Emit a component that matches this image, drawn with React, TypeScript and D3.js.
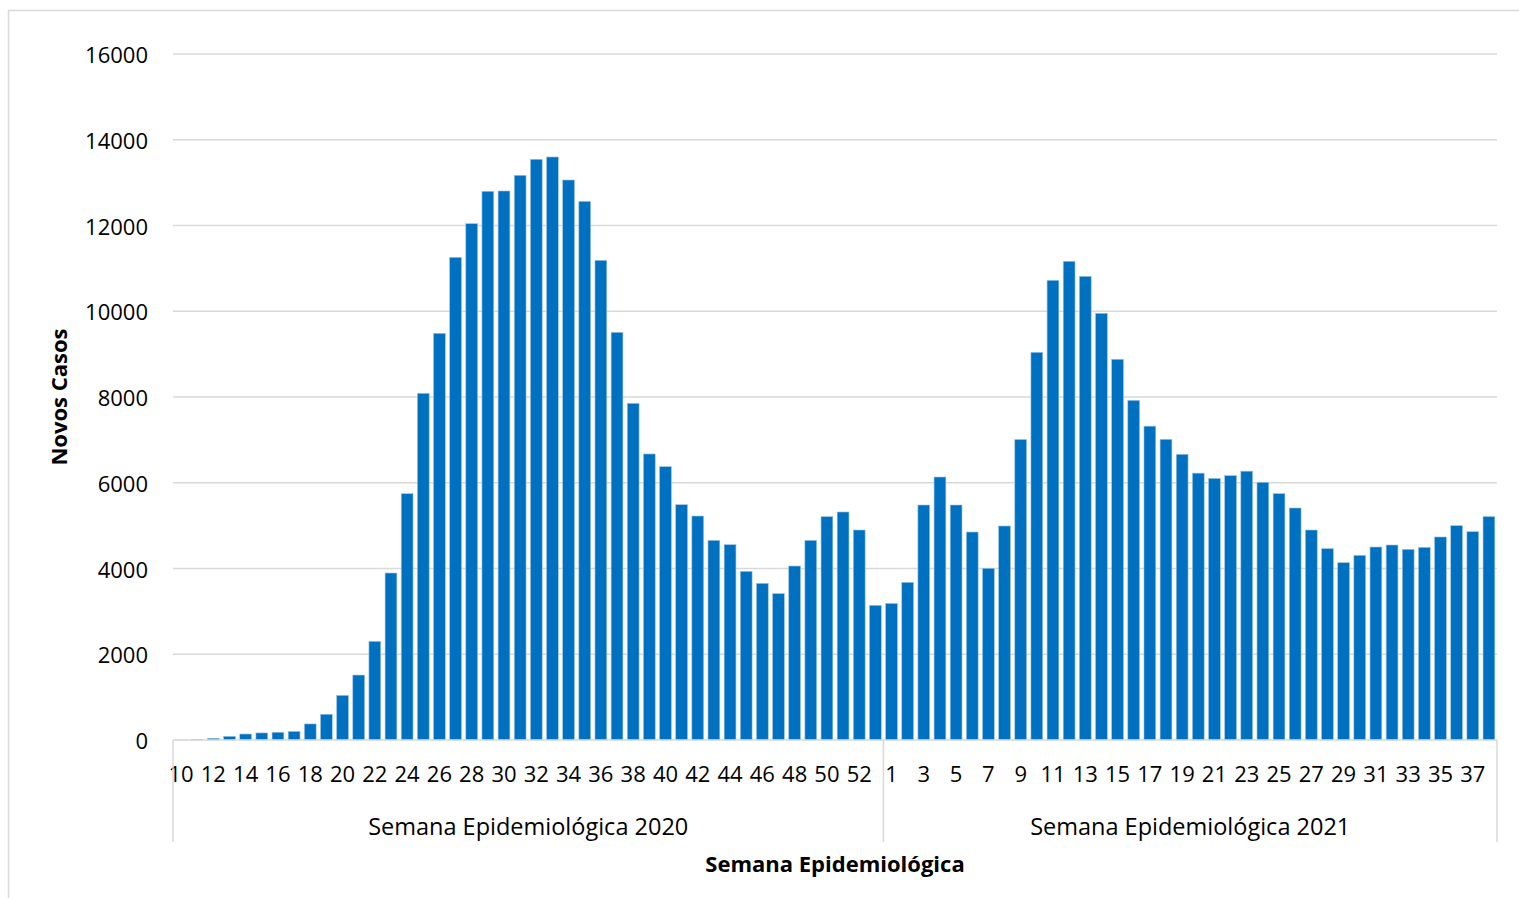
import { useEffect, useRef } from 'react';
import * as d3 from 'd3';

// Epidemiological weeks shown on the category axis
const weeks2020 = [
    10, 11, 12, 13, 14, 15, 16, 17, 18, 19, 20, 21, 22, 23, 24, 25, 26, 27, 28, 29, 30, 31,
    32, 33, 34, 35, 36, 37, 38, 39, 40, 41, 42, 43, 44, 45, 46, 47, 48, 49, 50, 51, 52, 53,
];
const weeks2021 = [
    1, 2, 3, 4, 5, 6, 7, 8, 9, 10, 11, 12, 13, 14, 15, 16, 17, 18, 19,
    20, 21, 22, 23, 24, 25, 26, 27, 28, 29, 30, 31, 32, 33, 34, 35, 36, 37, 38,
];

// New cases per week
const cases2020 = [
    2, 8, 40, 85, 140, 165, 180, 200, 375, 600, 1040, 1515, 2300, 3895, 5745, 8086, 9485, 11258,
    12043, 12797, 12805, 13170, 13544, 13598, 13061, 12563, 11188, 9509, 7853, 6671, 6375, 5489,
    5224, 4657, 4556, 3934, 3654, 3413, 4058, 4657, 5209, 5318, 4898, 3141,
];
const cases2021 = [
    3185, 3677, 5481, 6134, 5481, 4851, 4004, 4991, 7009, 9042, 10722, 11165, 10815, 9952, 8879,
    7922, 7320, 7013, 6663, 6224, 6100, 6165, 6270, 6010, 5746, 5411, 4898, 4462, 4136, 4307,
    4501, 4548, 4447, 4494, 4735, 4999, 4859, 5210,
];

const groups = [
    { label: 'Semana Epidemiológica 2020', weeks: weeks2020, values: cases2020, key: '2020' },
    { label: 'Semana Epidemiológica 2021', weeks: weeks2021, values: cases2021, key: '2021' },
];

const yTicks = [0, 2000, 4000, 6000, 8000, 10000, 12000, 14000, 16000];

const W = 1519;
const H = 898;
const PLOT = { left: 173, right: 1497, top: 54, bottom: 740 };
const BAR = '#0070C0';
const GRID = '#d9d9d9';
const FONT = '"Open Sans", "Noto Sans", sans-serif';

type Row = { id: string; week: number; value: number; group: string; pos: number };

export default function App() {
    const ref = useRef<SVGSVGElement>(null);

    useEffect(() => {
        document.body.style.margin = '0';
        document.body.style.overflow = 'hidden';
        if (!ref.current) return;

        const svg = d3.select(ref.current);
        svg.selectAll('*').remove();

        const rows: Row[] = groups.flatMap((g) =>
            g.weeks.map((w, i) => ({ id: `${g.key}-${w}`, week: w, value: g.values[i], group: g.key, pos: i }))
        );

        const x = d3.scaleBand<string>()
            .domain(rows.map((d) => d.id))
            .range([PLOT.left, PLOT.right])
            .paddingInner(0.27)
            .paddingOuter(0.135);

        const y = d3.scaleLinear().domain([0, 16000]).range([PLOT.bottom, PLOT.top]);

        // chart border
        svg.append('rect')
            .attr('x', 8.5)
            .attr('y', 10.5)
            .attr('width', W + 20)
            .attr('height', H + 20)
            .attr('fill', 'none')
            .attr('stroke', GRID)
            .attr('stroke-width', 1.5);

        // gridlines
        svg.append('g')
            .selectAll('line')
            .data(yTicks.filter((t) => t > 0))
            .join('line')
            .attr('x1', PLOT.left)
            .attr('x2', PLOT.right)
            .attr('y1', (d) => y(d))
            .attr('y2', (d) => y(d))
            .attr('stroke', GRID)
            .attr('stroke-width', 1.5);

        // y labels
        svg.append('g')
            .selectAll('text')
            .data(yTicks)
            .join('text')
            .attr('x', 148)
            .attr('y', (d) => y(d))
            .attr('text-anchor', 'end')
            .attr('dominant-baseline', 'central')
            .attr('font-family', FONT)
            .attr('font-size', 22)
            .attr('fill', '#000')
            .text((d) => String(d));

        // bars
        svg.append('g')
            .selectAll('rect')
            .data(rows)
            .join('rect')
            .attr('x', (d) => x(d.id) ?? 0)
            .attr('width', x.bandwidth())
            .attr('y', (d) => y(d.value))
            .attr('height', (d) => y(0) - y(d.value))
            .attr('fill', BAR)
            .attr('stroke', '#9cc3e6')
            .attr('stroke-width', 0.6);

        // category axis baseline
        svg.append('line')
            .attr('x1', PLOT.left)
            .attr('x2', PLOT.right)
            .attr('y1', PLOT.bottom)
            .attr('y2', PLOT.bottom)
            .attr('stroke', GRID)
            .attr('stroke-width', 1.5);

        // week labels, every second one per group
        svg.append('g')
            .selectAll('text')
            .data(rows.filter((d) => d.pos % 2 === 0))
            .join('text')
            .attr('x', (d) => (x(d.id) ?? 0) + x.bandwidth() / 2)
            .attr('y', 773)
            .attr('text-anchor', 'middle')
            .attr('dominant-baseline', 'central')
            .attr('font-family', FONT)
            .attr('font-size', 22)
            .attr('fill', '#000')
            .text((d) => String(d.week));

        // group separators and group labels
        const step = x.step();
        const edges = [PLOT.left];
        let acc = PLOT.left;
        groups.forEach((g) => {
            acc += g.weeks.length * step;
            edges.push(acc);
        });

        svg.append('g')
            .selectAll('line')
            .data(edges)
            .join('line')
            .attr('x1', (d) => d)
            .attr('x2', (d) => d)
            .attr('y1', PLOT.bottom)
            .attr('y2', 842)
            .attr('stroke', GRID)
            .attr('stroke-width', 1.5);

        svg.append('g')
            .selectAll('text')
            .data(groups)
            .join('text')
            .attr('x', (_, i) => (edges[i] + edges[i + 1]) / 2)
            .attr('y', 826)
            .attr('text-anchor', 'middle')
            .attr('dominant-baseline', 'central')
            .attr('font-family', FONT)
            .attr('font-size', 23.5)
            .attr('fill', '#000')
            .text((d) => d.label);

        // axis titles
        svg.append('text')
            .attr('x', 835)
            .attr('y', 863)
            .attr('text-anchor', 'middle')
            .attr('dominant-baseline', 'central')
            .attr('font-family', FONT)
            .attr('font-weight', 'bold')
            .attr('font-size', 22)
            .attr('fill', '#000')
            .text('Semana Epidemiológica');

        svg.append('text')
            .attr('transform', 'translate(58,397) rotate(-90)')
            .attr('text-anchor', 'middle')
            .attr('dominant-baseline', 'central')
            .attr('font-family', FONT)
            .attr('font-weight', 'bold')
            .attr('font-size', 22)
            .attr('fill', '#000')
            .text('Novos Casos');
    }, []);

    return (
        <svg
            ref={ref}
            width={W}
            height={H}
            viewBox={`0 0 ${W} ${H}`}
            style={{ position: 'absolute', left: 0, top: 0, background: '#fff' }}
        />
    );
}
